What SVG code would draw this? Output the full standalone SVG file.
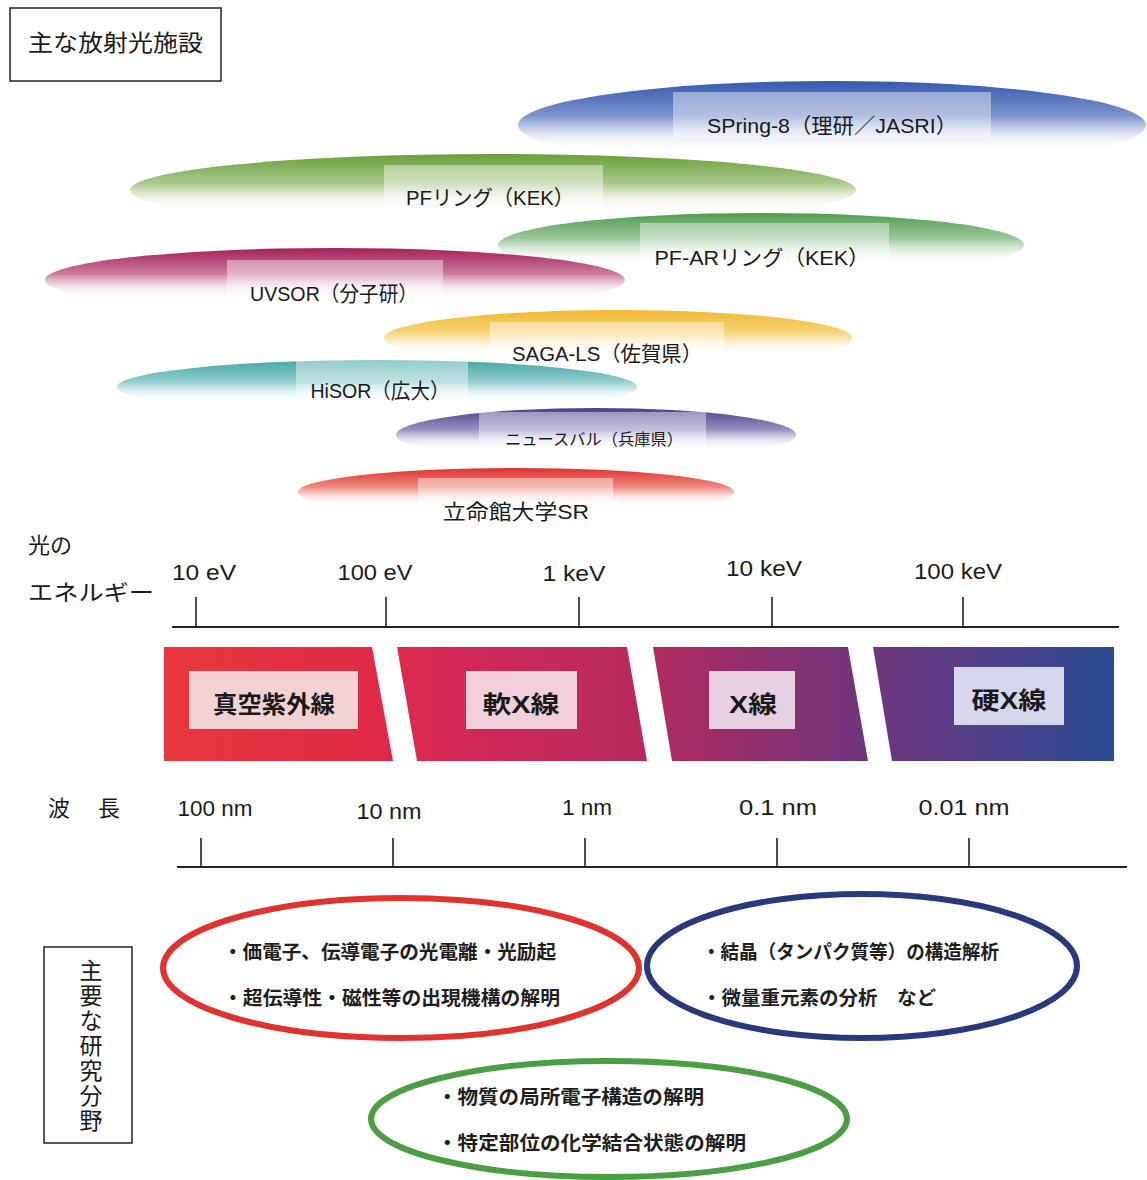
<svg xmlns="http://www.w3.org/2000/svg" width="1147" height="1180" viewBox="0 0 1147 1180">
<style>
text{font-family:"Liberation Sans","Noto Sans CJK JP",sans-serif;fill:#1a1a1a}
.lbl{font-size:21px;text-anchor:middle}
.ax{font-size:22px;text-anchor:middle}
.spec{font-size:24px;font-weight:bold;text-anchor:middle;fill:#1a1a1a}
.res{font-size:19px;font-weight:bold;fill:#1e1e1e}
.hd{font-size:23px}
.axis{stroke:#222;stroke-width:2;fill:none}
.tick{stroke:#222;stroke-width:1.6}
.ov{fill:#fff;fill-opacity:0.42}
.box{fill:#fff;stroke:#222;stroke-width:1.5}
</style>
<defs>
<linearGradient id="gBlue" x1="0" y1="0" x2="0" y2="1"><stop offset="0" stop-color="#3658b0"/><stop offset="0.4" stop-color="#7d94cc"/><stop offset="0.62" stop-color="#d9e0f0" stop-opacity="0.7"/><stop offset="0.82" stop-color="#fff" stop-opacity="0"/></linearGradient>
<linearGradient id="gGreen1" x1="0" y1="0" x2="0" y2="1"><stop offset="0" stop-color="#6a9e3a"/><stop offset="0.4" stop-color="#a8c88a"/><stop offset="0.62" stop-color="#e6f0dc" stop-opacity="0.7"/><stop offset="0.82" stop-color="#fff" stop-opacity="0"/></linearGradient>
<linearGradient id="gGreen2" x1="0" y1="0" x2="0" y2="1"><stop offset="0" stop-color="#4e9c4e"/><stop offset="0.4" stop-color="#9cc89c"/><stop offset="0.62" stop-color="#e2f0e2" stop-opacity="0.7"/><stop offset="0.82" stop-color="#fff" stop-opacity="0"/></linearGradient>
<linearGradient id="gMag" x1="0" y1="0" x2="0" y2="1"><stop offset="0" stop-color="#a3205a"/><stop offset="0.4" stop-color="#cc7a9c"/><stop offset="0.62" stop-color="#f2dde6" stop-opacity="0.7"/><stop offset="0.82" stop-color="#fff" stop-opacity="0"/></linearGradient>
<linearGradient id="gYel" x1="0" y1="0" x2="0" y2="1"><stop offset="0" stop-color="#f2b830"/><stop offset="0.4" stop-color="#f6d47a"/><stop offset="0.62" stop-color="#fcf0d0" stop-opacity="0.7"/><stop offset="0.82" stop-color="#fff" stop-opacity="0"/></linearGradient>
<linearGradient id="gTeal" x1="0" y1="0" x2="0" y2="1"><stop offset="0" stop-color="#44a8a8"/><stop offset="0.4" stop-color="#92cccc"/><stop offset="0.62" stop-color="#e0f2f2" stop-opacity="0.7"/><stop offset="0.82" stop-color="#fff" stop-opacity="0"/></linearGradient>
<linearGradient id="gPur" x1="0" y1="0" x2="0" y2="1"><stop offset="0" stop-color="#4a3e8a"/><stop offset="0.4" stop-color="#9890c0"/><stop offset="0.62" stop-color="#e4e2f0" stop-opacity="0.7"/><stop offset="0.82" stop-color="#fff" stop-opacity="0"/></linearGradient>
<linearGradient id="gRed" x1="0" y1="0" x2="0" y2="1"><stop offset="0" stop-color="#e0302c"/><stop offset="0.4" stop-color="#ee8a80"/><stop offset="0.62" stop-color="#fbe0dc" stop-opacity="0.7"/><stop offset="0.82" stop-color="#fff" stop-opacity="0"/></linearGradient>
<linearGradient id="gSpec" gradientUnits="userSpaceOnUse" x1="164" y1="0" x2="1114" y2="0"><stop offset="0" stop-color="#e8383c"/><stop offset="0.22" stop-color="#e02a48"/><stop offset="0.3" stop-color="#d42858"/><stop offset="0.5" stop-color="#b62a5c"/><stop offset="0.72" stop-color="#74347a"/><stop offset="0.85" stop-color="#563e88"/><stop offset="1" stop-color="#2a4c94"/></linearGradient>
</defs>

<g id="title"><rect class="box" x="10" y="8" width="211" height="73"/><text class="hd" x="28" y="51" textLength="175" lengthAdjust="spacingAndGlyphs">主な放射光施設</text></g>

<g id="spring8"><ellipse cx="832" cy="125" rx="314" ry="44" fill="url(#gBlue)"/><rect class="ov" x="673" y="92" width="318" height="46"/><text class="lbl" x="832" y="133" textLength="250" lengthAdjust="spacingAndGlyphs">SPring-8（理研／JASRI）</text></g>
<g id="pf"><ellipse cx="493" cy="190" rx="363" ry="36" fill="url(#gGreen1)"/><rect class="ov" x="384" y="165" width="219" height="44"/><text class="lbl" x="490" y="205" textLength="168" lengthAdjust="spacingAndGlyphs">PFリング（KEK）</text></g>
<g id="pfar"><ellipse cx="761" cy="245" rx="263" ry="32" fill="url(#gGreen2)"/><rect class="ov" x="640" y="223" width="249" height="46"/><text class="lbl" x="762" y="265" textLength="215" lengthAdjust="spacingAndGlyphs">PF-ARリング（KEK）</text></g>
<g id="uvsor"><ellipse cx="335" cy="280" rx="290" ry="32" fill="url(#gMag)"/><rect class="ov" x="227" y="260" width="216" height="44"/><text class="lbl" x="334" y="301" textLength="168" lengthAdjust="spacingAndGlyphs">UVSOR（分子研）</text></g>
<g id="saga"><ellipse cx="618" cy="338" rx="234" ry="28" fill="url(#gYel)"/><rect class="ov" x="490" y="322" width="234" height="42"/><text class="lbl" x="607" y="361" textLength="190" lengthAdjust="spacingAndGlyphs">SAGA-LS（佐賀県）</text></g>
<g id="hisor"><ellipse cx="377" cy="387" rx="260" ry="27" fill="url(#gTeal)"/><rect class="ov" x="296" y="360" width="172" height="44"/><text class="lbl" x="380" y="398" textLength="139" lengthAdjust="spacingAndGlyphs">HiSOR（広大）</text></g>
<g id="newsubaru"><ellipse cx="596" cy="435" rx="200" ry="27" fill="url(#gPur)"/><rect class="ov" x="479" y="412" width="227" height="40"/><text class="lbl" x="594" y="445" style="font-size:16px" textLength="178" lengthAdjust="spacingAndGlyphs">ニュースバル（兵庫県）</text></g>
<g id="ritsumeikan"><ellipse cx="516" cy="492" rx="218" ry="24" fill="url(#gRed)"/><rect class="ov" x="418" y="478" width="195" height="44"/><text class="lbl" x="516" y="519" textLength="146" lengthAdjust="spacingAndGlyphs">立命館大学SR</text></g>

<g id="energy-axis">
<text class="hd" x="28" y="553" style="font-size:22px">光の</text>
<text class="hd" x="28" y="600" style="font-size:22px" textLength="126" lengthAdjust="spacingAndGlyphs">エネルギー</text>
<line class="axis" x1="172" y1="627" x2="1119" y2="627"/>
<line class="tick" x1="196" y1="597" x2="196" y2="627"/>
<line class="tick" x1="386" y1="597" x2="386" y2="627"/>
<line class="tick" x1="579" y1="597" x2="579" y2="627"/>
<line class="tick" x1="772" y1="597" x2="772" y2="627"/>
<line class="tick" x1="963" y1="597" x2="963" y2="627"/>
<text class="ax" x="204" y="580" textLength="64" lengthAdjust="spacingAndGlyphs">10 eV</text>
<text class="ax" x="375" y="580" textLength="75" lengthAdjust="spacingAndGlyphs">100 eV</text>
<text class="ax" x="574" y="581" textLength="63" lengthAdjust="spacingAndGlyphs">1 keV</text>
<text class="ax" x="764" y="576" textLength="76" lengthAdjust="spacingAndGlyphs">10 keV</text>
<text class="ax" x="958" y="579" textLength="88" lengthAdjust="spacingAndGlyphs">100 keV</text>
</g>

<g id="band-vuv"><polygon points="164,647 372,647 393,761 164,761" fill="url(#gSpec)"/><rect x="189" y="671" width="169" height="58" fill="#f3d2d4"/><text class="spec" x="274" y="713" textLength="122" lengthAdjust="spacingAndGlyphs">真空紫外線</text></g>
<g id="band-soft"><polygon points="397,647 627,647 647,761 417,761" fill="url(#gSpec)"/><rect x="466" y="671" width="111" height="58" fill="#f1d0da"/><text class="spec" x="521" y="713" textLength="77" lengthAdjust="spacingAndGlyphs">軟X線</text></g>
<g id="band-x"><polygon points="653,647 848,647 868,761 672,761" fill="url(#gSpec)"/><rect x="709" y="671" width="86" height="58" fill="#e6d0e2"/><text class="spec" x="753" y="713" textLength="48" lengthAdjust="spacingAndGlyphs">X線</text></g>
<g id="band-hard"><polygon points="873,647 1114,647 1114,761 892,761" fill="url(#gSpec)"/><rect x="954" y="667" width="110" height="58" fill="#d6d6ec"/><text class="spec" x="1009" y="709" textLength="75" lengthAdjust="spacingAndGlyphs">硬X線</text></g>

<g id="wavelength-axis">
<text class="hd" x="48" y="816" style="font-size:22px">波</text>
<text class="hd" x="98" y="816" style="font-size:22px">長</text>
<line class="axis" x1="177" y1="867" x2="1127" y2="867"/>
<line class="tick" x1="201" y1="838" x2="201" y2="867"/>
<line class="tick" x1="393" y1="838" x2="393" y2="867"/>
<line class="tick" x1="585" y1="838" x2="585" y2="867"/>
<line class="tick" x1="777" y1="838" x2="777" y2="867"/>
<line class="tick" x1="969" y1="838" x2="969" y2="867"/>
<text class="ax" x="215" y="816" textLength="75" lengthAdjust="spacingAndGlyphs">100 nm</text>
<text class="ax" x="389" y="819" textLength="65" lengthAdjust="spacingAndGlyphs">10 nm</text>
<text class="ax" x="587" y="815" textLength="50" lengthAdjust="spacingAndGlyphs">1 nm</text>
<text class="ax" x="778" y="815" textLength="78" lengthAdjust="spacingAndGlyphs">0.1 nm</text>
<text class="ax" x="964" y="815" textLength="91" lengthAdjust="spacingAndGlyphs">0.01 nm</text>
</g>

<g id="research-label"><rect class="box" x="44" y="947" width="88" height="196"/>
<text class="hd" x="91" text-anchor="middle"><tspan x="91" y="979">主</tspan><tspan x="91" y="1004">要</tspan><tspan x="91" y="1029">な</tspan><tspan x="91" y="1054">研</tspan><tspan x="91" y="1079">究</tspan><tspan x="91" y="1104">分</tspan><tspan x="91" y="1129">野</tspan></text></g>

<g id="field-vuv"><ellipse cx="401" cy="968" rx="238" ry="70" fill="none" stroke="#e0322e" stroke-width="6"/>
<text class="res" x="223" y="959" textLength="333" lengthAdjust="spacingAndGlyphs">・価電子、伝導電子の光電離・光励起</text>
<text class="res" x="223" y="1005" textLength="337" lengthAdjust="spacingAndGlyphs">・超伝導性・磁性等の出現機構の解明</text></g>
<g id="field-x"><ellipse cx="862" cy="966" rx="215" ry="72" fill="none" stroke="#283a7c" stroke-width="6"/>
<text class="res" x="702" y="959" textLength="297" lengthAdjust="spacingAndGlyphs">・結晶（タンパク質等）の構造解析</text>
<text class="res" x="702" y="1005" textLength="234" lengthAdjust="spacingAndGlyphs">・微量重元素の分析　など</text></g>
<g id="field-soft"><ellipse cx="609" cy="1119" rx="238" ry="58" fill="none" stroke="#4c9e44" stroke-width="6"/>
<text class="res" x="437" y="1104" textLength="267" lengthAdjust="spacingAndGlyphs">・物質の局所電子構造の解明</text>
<text class="res" x="437" y="1150" textLength="309" lengthAdjust="spacingAndGlyphs">・特定部位の化学結合状態の解明</text></g>

<g id="connectors"></g>
</svg>
